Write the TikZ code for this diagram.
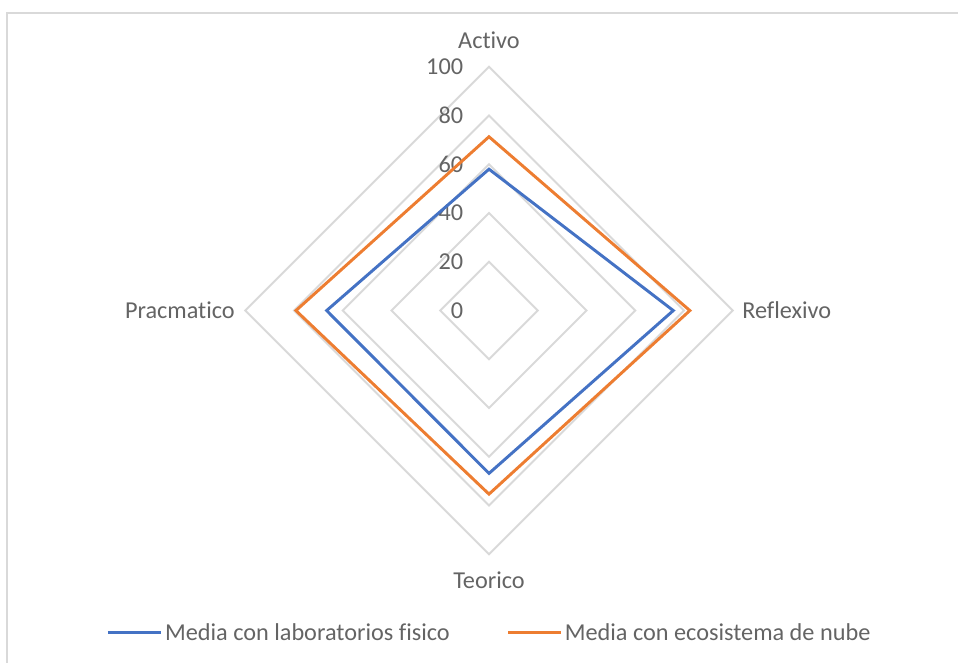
\documentclass[tikz,border=0pt]{standalone}
\usepackage{fontspec}
\setmainfont{Carlito}[Ligatures=NoCommon]
\usetikzlibrary{positioning}
\definecolor{gridgray}{RGB}{217,217,217}
\definecolor{labgray}{RGB}{100,100,100}
\definecolor{serblue}{RGB}{68,114,196}
\definecolor{serorange}{RGB}{237,125,49}
\tikzset{%
   ringline/.style={
      draw=gridgray,
      line width=1.5pt,
      line join=miter
   },
   frameline/.style={
      draw=gridgray,
      line width=1.5pt
   },
   lab/.style={
      text=labgray,
      inner sep=0pt,
      font=\fontsize{18.2}{21}\selectfont
   },
   ticklab/.style={
      lab,
      anchor=east
   },
   serb/.style={
      draw=serblue,
      line width=2.2pt,
      line join=miter
   },
   sero/.style={
      draw=serorange,
      line width=2.2pt,
      line join=miter
   },
}
\begin{document}
\begin{tikzpicture}[x=1.8285pt, y=1.8285pt]
   \useasboundingbox (-200.6,-144.2) rectangle (192.4,127.4);
   \draw[frameline] (-197.7,-150) -- (-197.7,122) -- (200,122);
   % rings
   \foreach \r in {20,40,...,100}
      \draw[ringline] (90:\r) -- (0:\r) -- (-90:\r) -- (180:\r) -- cycle;
   \foreach \r in {0,20,...,100}
      \node[ticklab] (t\r) at (-10.5,\r) {\r};
   % axes
   \node[lab] (act) at (0,111) {Activo};
   \node[lab, anchor=west] (ref) at (103.8,0) {Reflexivo};
   \node[lab] (teo) at (0,-110.5) {Teorico};
   \node[lab, anchor=east] (pra) at (-104.2,0) {Pracmatico};
   % series
   \coordinate (b1) at (90:58);
   \coordinate (b2) at (0:75.6);
   \coordinate (b3) at (-90:66.8);
   \coordinate (b4) at (180:66.6);
   \coordinate (o1) at (90:71.3);
   \coordinate (o2) at (0:82.4);
   \coordinate (o3) at (-90:75.3);
   \coordinate (o4) at (180:79.2);
   \draw[serb] (b1) -- (b2) -- (b3) -- (b4) -- cycle;
   \draw[sero] (o1) -- (o2) -- (o3) -- (o4) -- cycle;
   % legend
   \coordinate (lb0) at (-156.3,-131.9);
   \coordinate (lb1) at (-134.5,-131.9);
   \coordinate (lo0) at (7.8,-131.9);
   \coordinate (lo1) at (29.5,-131.9);
   \draw[serb] (lb0) -- (lb1);
   \draw[sero] (lo0) -- (lo1);
   \node[lab, anchor=west, right=1.5 of lb1] (lbt) {Media con laboratorios fisico};
   \node[lab, anchor=west, right=1.5 of lo1] (lot) {Media con ecosistema de nube};
\end{tikzpicture}
\end{document}
